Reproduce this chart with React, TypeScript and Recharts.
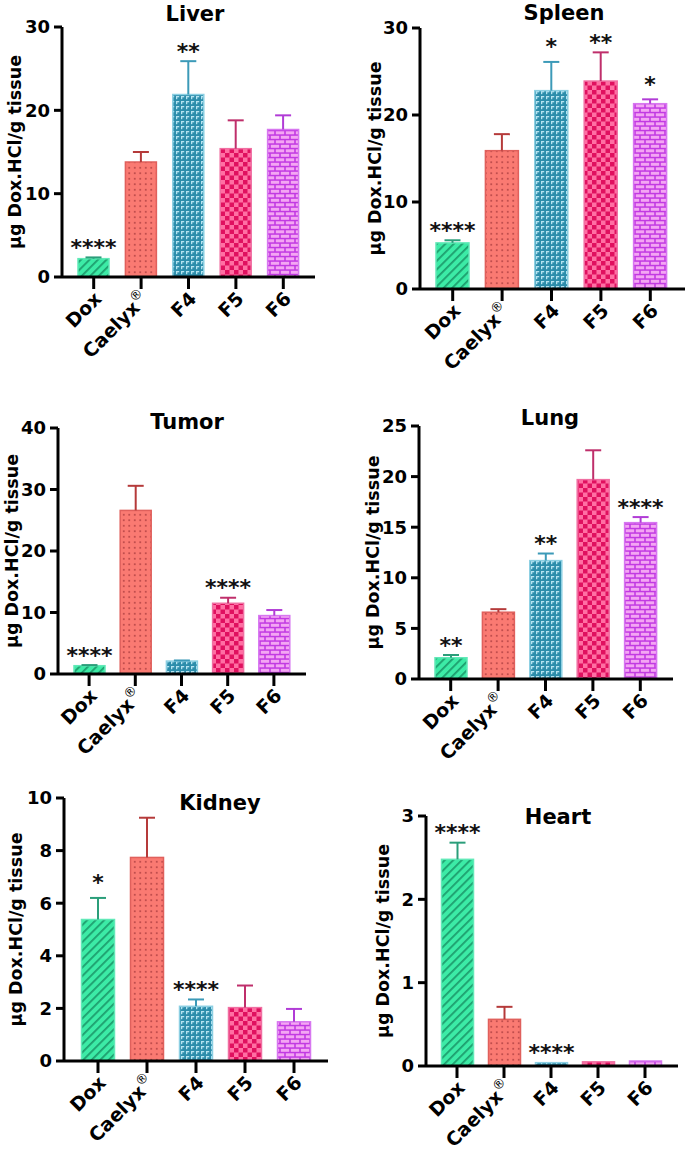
import React from 'react';
import { BarChart, Bar, XAxis, YAxis } from 'recharts';

const categories = ["Dox", "Caelyx®", "F4", "F5", "F6"];

const liverMean = [2.2, 13.8, 21.9, 15.4, 17.7];
const liverErr = [0.15, 1.2, 4.0, 3.4, 1.7];
const liverStars = ["****", "", "**", "", ""];

const spleenMean = [5.3, 15.9, 22.8, 23.9, 21.3];
const spleenErr = [0.3, 1.9, 3.3, 3.3, 0.5];
const spleenStars = ["****", "", "*", "**", "*"];

const tumorMean = [1.35, 26.6, 2.1, 11.5, 9.5];
const tumorErr = [0.1, 4.0, 0.1, 0.9, 0.9];
const tumorStars = ["****", "", "", "****", ""];

const lungMean = [2.1, 6.6, 11.7, 19.7, 15.45];
const lungErr = [0.27, 0.3, 0.7, 2.9, 0.55];
const lungStars = ["**", "", "**", "", "****"];

const kidneyMean = [5.38, 7.74, 2.08, 2.03, 1.49];
const kidneyErr = [0.82, 1.51, 0.26, 0.84, 0.49];
const kidneyStars = ["*", "", "****", "", ""];

const heartMean = [2.48, 0.56, 0.04, 0.05, 0.06];
const heartErr = [0.2, 0.15, 0, 0, 0];
const heartStars = ["****", "", "****", "", ""];

const liverTicks = [0, 10, 20, 30];
const spleenTicks = [0, 10, 20, 30];
const tumorTicks = [0, 10, 20, 30, 40];
const lungTicks = [0, 5, 10, 15, 20, 25];
const kidneyTicks = [0, 2, 4, 6, 8, 10];
const heartTicks = [0, 1, 2, 3];

const yLabel = "µg Dox.HCl/g tissue";

const FONT = "'DejaVu Sans', Verdana, sans-serif";
const patternIds = ["pDox", "pCae", "pF4", "pF5", "pF6"];
const borderColors = ["#62E9B8", "#E0605C", "#8CCFE2", "#F06FA2", "#D777F0"];
const errColors = ["#2B9E7A", "#B53A3A", "#3C9AB8", "#BF2F6B", "#B13CD6"];

function buildData(mean: number[], err: number[], stars: string[]) {
  return categories.map((c, i) => ({ name: c, value: mean[i], err: err[i], stars: stars[i], idx: i }));
}

const BarShape = (props: any) => {
  const { x, y, width, height, payload } = props;
  const i = payload.idx;
  const ratio = payload.value > 0 ? height / payload.value : 0;
  const errPx = payload.err * ratio;
  const cx = x + width / 2;
  const errTop = y - errPx;
  const starGap = payload.stars.length === 1 ? 20 : 15;
  return (
    <g>
      <rect x={x} y={y} width={width} height={height} fill={`url(#${patternIds[i]})`} stroke={borderColors[i]} strokeWidth={1.5} />
      {errPx > 0.5 && (
        <g stroke={errColors[i]} strokeWidth={2}>
          <line x1={cx} x2={cx} y1={y} y2={errTop} />
          <line x1={cx - 8} x2={cx + 8} y1={errTop} y2={errTop} />
        </g>
      )}
      {payload.stars && (
        <text x={cx} y={errTop - starGap + 12.5} textAnchor="middle" fontFamily={FONT} fontWeight="bold" fontSize={22} fill="#111">
          {payload.stars}
        </text>
      )}
    </g>
  );
};

const XTick = (props: any) => {
  const { x, y, payload } = props;
  const label = String(payload.value);
  const hasR = label.endsWith("®");
  const main = hasR ? label.slice(0, -1) : label;
  return (
    <text transform={`translate(${x + 9},${y + 9}) rotate(-45)`} textAnchor="end" fontFamily={FONT} fontWeight="bold" fontSize={19} fill="#000">
      {main}
      {hasR && <tspan fontSize={13} fontWeight="normal" dy={-9}>®</tspan>}
    </text>
  );
};

type PanelProps = {
  left: number; top: number; width: number; height: number;
  marginTop: number; marginRight: number; yWidth: number; xHeight: number;
  padL: number; padR: number; barSize: number; yMax: number; yTicks: number[];
  labelX: number; title: string; titleX: number; titleY: number;
  mean: number[]; err: number[]; stars: string[];
};

const Panel = (p: PanelProps) => {
  const data = buildData(p.mean, p.err, p.stars);
  const axisStyle = { stroke: '#000', strokeWidth: 3 };
  return (
    <div style={{ position: 'absolute', left: p.left, top: p.top, width: p.width, height: p.height }}>
      <BarChart width={p.width} height={p.height} data={data} margin={{ top: p.marginTop, right: p.marginRight, left: 0, bottom: 0 }}>
        <XAxis dataKey="name" type="category" height={p.xHeight} padding={{ left: p.padL, right: p.padR }}
          axisLine={axisStyle} tickLine={axisStyle} tickSize={12} tick={<XTick />} interval={0} />
        <YAxis type="number" width={p.yWidth} domain={[0, p.yMax]} ticks={p.yTicks} interval={0}
          axisLine={axisStyle} tickLine={axisStyle} tickSize={8} tickMargin={4}
          tick={{ fontFamily: FONT, fontWeight: 'bold', fontSize: 18, fill: '#000' }}
          label={{
            content: (lp: any) => {
              const vb = lp.viewBox || { x: 0, y: p.marginTop, height: p.height - p.marginTop - p.xHeight };
              const cy = vb.y + vb.height / 2;
              const cxl = p.labelX;
              return (
                <text x={cxl} y={cy} transform={`rotate(-90, ${cxl}, ${cy})`} textAnchor="middle" dominantBaseline="central"
                  fontFamily={FONT} fontWeight="bold" fontSize={17.5} fill="#000">{yLabel}</text>
              );
            }
          }} />
        <Bar dataKey="value" barSize={p.barSize} shape={BarShape} isAnimationActive={false} />
      </BarChart>
      <div style={{ position: 'absolute', left: p.titleX - p.left, top: p.titleY - p.top, transform: 'translate(-50%, -50%)',
        fontFamily: FONT, fontWeight: 'bold', fontSize: 21, color: '#000', whiteSpace: 'nowrap', lineHeight: 1 }}>{p.title}</div>
    </div>
  );
};

const Patterns = () => (
  <svg width={0} height={0} style={{ position: 'absolute', left: 0, top: 0 }}>
    <defs>
      <pattern id="pDox" patternUnits="userSpaceOnUse" width={6} height={6} patternTransform="rotate(45)">
        <rect width={6} height={6} fill="#3CEBA6" />
        <rect x={0} y={0} width={1.8} height={6} fill="#1E9E6E" />
      </pattern>
      <pattern id="pCae" patternUnits="userSpaceOnUse" width={5.5} height={5.5}>
        <rect width={5.5} height={5.5} fill="#FA7A72" />
        <rect x={2} y={2} width={1.5} height={1.5} fill="#A5383A" />
      </pattern>
      <pattern id="pF4" patternUnits="userSpaceOnUse" width={5} height={5}>
        <rect width={5} height={5} fill="#2C8DAB" />
        <rect x={1} y={1} width={3.2} height={1.3} fill="#B5E3F0" />
        <rect x={1} y={1} width={1.3} height={3.2} fill="#B5E3F0" />
      </pattern>
      <pattern id="pF5" patternUnits="userSpaceOnUse" width={9} height={9}>
        <rect width={9} height={9} fill="#FF6FA3" />
        <rect x={0} y={0} width={4.5} height={4.5} fill="#E0105F" />
        <rect x={4.5} y={4.5} width={4.5} height={4.5} fill="#E0105F" />
      </pattern>
      <pattern id="pF6" patternUnits="userSpaceOnUse" width={10} height={9}>
        <rect width={10} height={9} fill="#C23AE3" />
        <rect x={0.8} y={0.8} width={8.4} height={3} fill="#F4A6F3" />
        <rect x={-4.2} y={5.3} width={8.4} height={3} fill="#F4A6F3" />
        <rect x={5.8} y={5.3} width={8.4} height={3} fill="#F4A6F3" />
      </pattern>
    </defs>
  </svg>
);

export default function App() {
  return (
    <div style={{ position: 'absolute', left: 0, top: 0, width: 685, height: 1150, background: '#fff', overflow: 'hidden' }}>
      <Patterns />
      <Panel left={0} top={0} width={320} height={390} marginTop={27} marginRight={5} yWidth={62} xHeight={113}
        padL={8} padR={8} barSize={31} yMax={30} yTicks={liverTicks} labelX={15}
        title="Liver" titleX={195} titleY={14} mean={liverMean} err={liverErr} stars={liverStars} />
      <Panel left={340} top={0} width={345} height={395} marginTop={28} marginRight={0} yWidth={80} xHeight={106}
        padL={8} padR={10} barSize={33} yMax={30} yTicks={spleenTicks} labelX={35}
        title="Spleen" titleX={564} titleY={13} mean={spleenMean} err={spleenErr} stars={spleenStars} />
      <Panel left={0} top={380} width={312} height={395} marginTop={48} marginRight={6} yWidth={58} xHeight={101}
        padL={8} padR={9} barSize={31} yMax={40} yTicks={tumorTicks} labelX={12}
        title="Tumor" titleX={187} titleY={422} mean={tumorMean} err={tumorErr} stars={tumorStars} />
      <Panel left={340} top={380} width={340} height={395} marginTop={46} marginRight={7} yWidth={79} xHeight={96}
        padL={8} padR={9} barSize={32} yMax={25} yTicks={lungTicks} labelX={33}
        title="Lung" titleX={550} titleY={418} mean={lungMean} err={lungErr} stars={lungStars} />
      <Panel left={0} top={760} width={335} height={390} marginTop={38} marginRight={7} yWidth={64} xHeight={89}
        padL={9.5} padR={9.5} barSize={33} yMax={10} yTicks={kidneyTicks} labelX={16}
        title="Kidney" titleX={220} titleY={803} mean={kidneyMean} err={kidneyErr} stars={kidneyStars} />
      <Panel left={340} top={760} width={345} height={390} marginTop={56} marginRight={7} yWidth={86} xHeight={84}
        padL={7.5} padR={9.5} barSize={32} yMax={3} yTicks={heartTicks} labelX={43}
        title="Heart" titleX={558} titleY={817} mean={heartMean} err={heartErr} stars={heartStars} />
    </div>
  );
}
